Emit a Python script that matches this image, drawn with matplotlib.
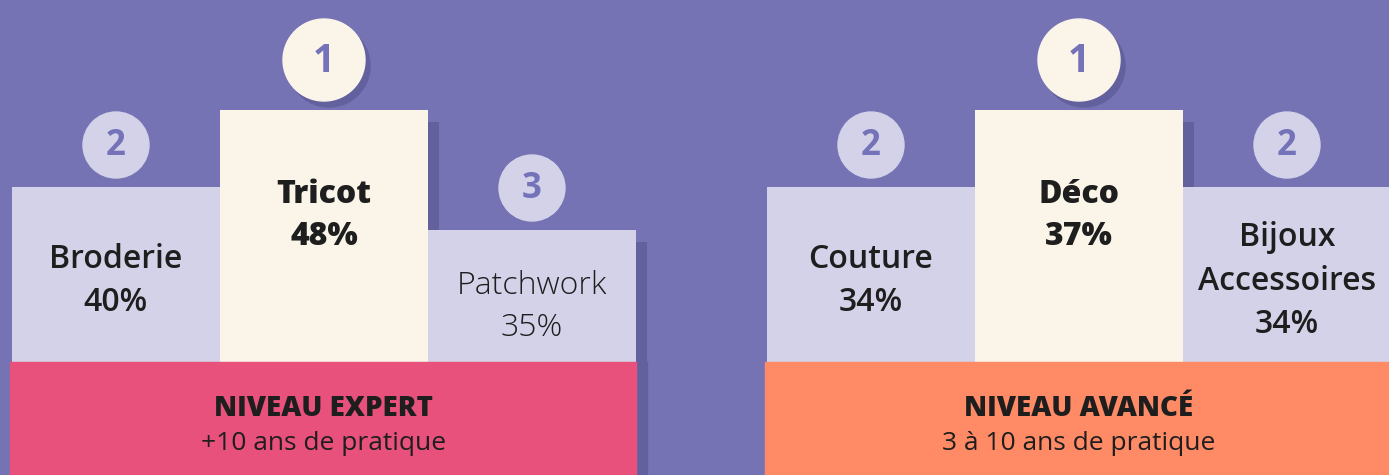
import matplotlib
matplotlib.use("Agg")
import matplotlib.pyplot as plt
from matplotlib.patches import Circle, Rectangle

# ---------- data ----------
left_labels  = ["Broderie", "Tricot", "Patchwork"]
left_pcts    = [40, 48, 35]
left_ranks   = [2, 1, 3]
right_labels = ["Couture", "Déco", "Bijoux\nAccessoires"]
right_pcts   = [34, 37, 34]
right_ranks  = [2, 1, 2]
band_titles  = ["NIVEAU EXPERT", "NIVEAU AVANCÉ"]
band_subs    = ["+10 ans de pratique", "3 à 10 ans de pratique"]

# ---------- style ----------
BG, LAV, CREAM = "#7573B4", "#D3D2E8", "#FAF4E9"
BAND_COLORS = ["#E8517C", "#FF8A66"]
SHADOW = "#63609E"
NUM_COL = "#7472B8"
INK = "#1E1E1E"
FONT = "Open Sans"

W, H = 1389, 475
BASE = 362                       # top of the coloured band (px)
STEP_TOP = {1: 110, 2: 187, 3: 230}
TEXT_OFF = {1: 106, 2: 94, 3: 77}
WEIGHT = {1: 800, 2: 600, 3: 300}
BAR_W = 208
GROUP_X = [12, 767]

fig = plt.figure(figsize=(W / 100, H / 100), dpi=100)
fig.patch.set_facecolor(BG)
ax = fig.add_axes([0, 0, 1, 1])
ax.set_xlim(0, W)
ax.set_ylim(H, 0)
ax.axis("off")
ax.set_facecolor(BG)


def podium(x0, labels, pcts, ranks, band_col, title, sub):
    xs = [x0 + i * BAR_W + BAR_W / 2 for i in range(3)]
    tops = [STEP_TOP[r] for r in ranks]
    heights = [BASE - t for t in tops]
    cols = [CREAM if r == 1 else LAV for r in ranks]
    # shadows
    ax.bar([x + 11 for x in xs], heights, bottom=[t + 12 for t in tops],
           width=BAR_W, color=SHADOW, zorder=1)
    ax.add_patch(Rectangle((x0 - 2 + 11, BASE), 3 * BAR_W + 2, H, color=SHADOW, zorder=1))
    # steps
    ax.bar(xs, heights, bottom=tops, width=BAR_W, color=cols, zorder=2)
    ax.add_patch(Rectangle((x0 - 2, BASE), 3 * BAR_W + 2, H, color=band_col, zorder=3))
    for x, t, r, lab, p in zip(xs, tops, ranks, labels, pcts):
        ax.text(x, t + TEXT_OFF[r], f"{lab}\n{p}%", ha="center", va="center",
                fontsize=23, family=FONT, weight=WEIGHT[r], color=INK,
                linespacing=1.42, zorder=5)
        rad = 41 if r == 1 else 33
        cy = t - (50 if r == 1 else 42)
        ccol = CREAM if r == 1 else LAV
        if r == 1:
            ax.add_patch(Circle((x + 5, cy + 6), rad, color=SHADOW, zorder=4))
        ax.add_patch(Circle((x, cy), rad, color=ccol, zorder=5))
        ax.text(x, cy + 1, str(r), ha="center", va="center",
                fontsize=28 if r == 1 else 25, family=FONT, weight="bold",
                color=NUM_COL, zorder=6)
    cx = x0 + 1.5 * BAR_W
    ax.text(cx, 408, title, ha="center", va="center", fontsize=20,
            family=FONT, weight=800, color=INK, zorder=6)
    ax.text(cx, 444, sub, ha="center", va="center", fontsize=19,
            family=FONT, weight="normal", color=INK, zorder=6)


podium(GROUP_X[0], left_labels, left_pcts, left_ranks, BAND_COLORS[0],
       band_titles[0], band_subs[0])
podium(GROUP_X[1], right_labels, right_pcts, right_ranks, BAND_COLORS[1],
       band_titles[1], band_subs[1])

fig.savefig("out.png", dpi=100, facecolor=BG)
